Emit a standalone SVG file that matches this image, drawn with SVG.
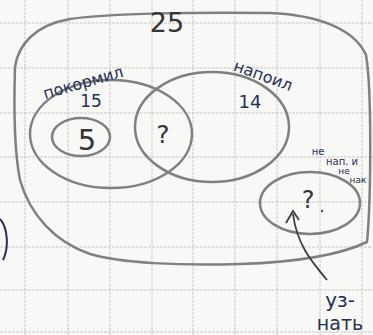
<svg xmlns="http://www.w3.org/2000/svg" width="373" height="335" viewBox="0 0 373 335">
<style>
.grid{stroke:#c9c9c9;stroke-width:1;stroke-dasharray:3 1}
.pencil{fill:none;stroke:#808080;stroke-width:2.5;stroke-linecap:round}
.ink{font-family:"DejaVu Sans",sans-serif;fill:#263052}
.pen{font-family:"DejaVu Sans",sans-serif;fill:#353535}
</style>
<rect width="373" height="335" fill="#f8f8f6"/>
<g id="grid">
<path class="grid" d="M25 0V335M68 0V335M110 0V335M152 0V335M193 0V335M235 0V335M277 0V335M320 0V335M362 0V335"/>
<path class="grid" d="M0 23H373M0 68H373M0 113H373M0 157H373M0 202H373M0 247H373M0 290H373M0 332H373"/>
</g>
<g id="universe">
<path class="pencil" d="M15 67 C18 45 35 25 70 19 C110 13 200 12 270 13 C320 15 355 30 366 55 C372 90 371 200 367 242 C340 255 300 262 240 264 C180 266 120 263 90 254 C55 242 30 215 20 180 C14 150 14 100 15 67 Z"/>
<text class="pen" x="167" y="32" font-size="27" text-anchor="middle">25</text>
</g>
<g id="fed">
<ellipse class="pencil" cx="111" cy="134" rx="81" ry="54"/>
<text class="ink" x="83" y="88" font-size="16" text-anchor="middle" transform="rotate(-16 83 82)">покормил</text>
<text class="ink" x="91" y="107" font-size="17" text-anchor="middle">15</text>
</g>
<g id="five">
<ellipse class="pencil" cx="81" cy="137" rx="29" ry="19"/>
<text class="pen" x="87" y="150" font-size="29" text-anchor="middle">5</text>
</g>
<g id="watered">
<ellipse class="pencil" cx="212" cy="127" rx="77" ry="55"/>
<text class="ink" x="263" y="81" font-size="16" text-anchor="middle" transform="rotate(20 263 76)">напоил</text>
<text class="ink" x="250" y="108" font-size="18" text-anchor="middle">14</text>
<text class="pen" x="163" y="143" font-size="25" text-anchor="middle">?</text>
</g>
<g id="neither">
<ellipse class="pencil" cx="310" cy="203" rx="50" ry="31"/>
<text class="ink" x="318" y="155" font-size="10" text-anchor="middle">не</text>
<text class="ink" x="342" y="165" font-size="10" text-anchor="middle">нап. и</text>
<text class="ink" x="344" y="174" font-size="9" text-anchor="middle">не</text>
<text class="ink" x="358" y="183" font-size="9" text-anchor="middle">нак</text>
<text class="pen" x="308" y="208" font-size="24" text-anchor="middle">?</text>
<circle cx="322" cy="211" r="1.2" fill="#555"/>
</g>
<g id="left-mark">
<path d="M0 219 C8 228 9 248 3 260" fill="none" stroke="#263052" stroke-width="2"/>
</g>
<g id="note">
<text class="ink" x="340" y="307" font-size="20" text-anchor="middle">уз-</text>
<text class="ink" x="340" y="330" font-size="19" text-anchor="middle">нать</text>
</g>
<g id="connectors">
<path d="M327 280 C312 262 297 245 293 214" fill="none" stroke="#3f3f3f" stroke-width="1.8"/>
<path d="M286 223 L293 211 L299 220" fill="none" stroke="#3f3f3f" stroke-width="1.8"/>
</g>
</svg>
